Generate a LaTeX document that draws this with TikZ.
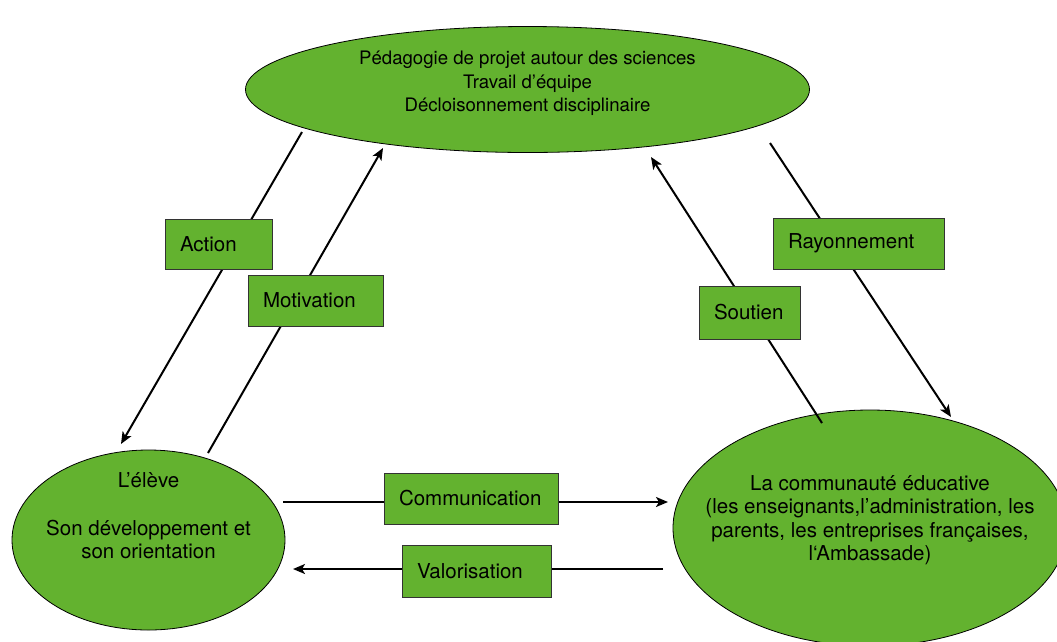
\documentclass[tikz,border=0pt]{standalone}
\usepackage{fontspec}
\setmainfont{TeX Gyre Heros}
\usetikzlibrary{shapes.geometric,arrows.meta}
\definecolor{leafgreen}{RGB}{99,178,47}

\begin{document}
\begin{tikzpicture}[x=1pt, y=-1pt,
  blob/.style={ellipse, draw=black, line width=0.8pt, fill=leafgreen, inner sep=0pt},
  blobtext/.style={align=center, font=\fontsize{20.5}{23.5}\selectfont},
  tag/.style={rectangle, draw=black!80, line width=0.8pt, fill=leafgreen,
    inner xsep=15pt, inner ysep=0pt, align=left, minimum height=51pt,
    font=\fontsize{20.5}{24}\selectfont},
  link/.style={line width=2pt, -{Stealth[length=12pt,width=10pt,inset=3pt]}}]
  \clip (0,0) rectangle (1057,641);
  % Ellipses
  \node[blob, minimum width=564pt, minimum height=126pt] (projet) at (527.5,89.5) {};
  \node[blob, minimum width=273pt, minimum height=180pt] (eleve) at (148.5,540) {};
  \node[blob, minimum width=394pt, minimum height=236pt] (communaute) at (870,528) {};
  \node[blobtext, font=\fontsize{18.6}{23.5}\selectfont] (projet-txt) at (527.5,83.5)
    {Pédagogie de projet autour des sciences\\Travail d’équipe\\Décloisonnement disciplinaire};
  \node[blobtext] (eleve-txt) at (148.5,516)
    {L’élève\\[24pt]Son développement et\\son orientation};
  \node[blobtext] (communaute-txt) at (870,520)
    {La communauté éducative\\(les enseignants,l’administration, les\\parents, les entreprises françaises,\\l‘Ambassade)};
  % Connector ends
  \coordinate (act-a) at (302,132);   \coordinate (act-b) at (121,444);
  \coordinate (mot-a) at (208,453);   \coordinate (mot-b) at (383,148);
  \coordinate (sou-a) at (822,423);   \coordinate (sou-b) at (651,157);
  \coordinate (ray-a) at (770,143);   \coordinate (ray-b) at (951,417);
  \coordinate (com-a) at (283,502);   \coordinate (com-b) at (668,502);
  \coordinate (val-a) at (663,569);   \coordinate (val-b) at (293,569);
  % Connectors
  \draw[link] (act-a) -- (act-b);
  \draw[link] (mot-a) -- (mot-b);
  \draw[link] (sou-a) -- (sou-b);
  \draw[link] (ray-a) -- (ray-b);
  \draw[link] (com-a) -- (com-b);
  \draw[link] (val-a) -- (val-b);
  % Labels
  \node[tag, text width=77pt, minimum height=50pt] (action) at (218.5,244) {Action};
  \node[tag, text width=105pt] (motivation) at (315.5,300.5) {Motivation};
  \node[tag, text width=141pt] (rayonnement) at (858.5,243.5) {Rayonnement};
  \node[tag, text width=71pt, minimum height=53pt] (soutien) at (749.5,312.5) {Soutien};
  \node[tag, text width=144pt] (communication) at (471,498.5) {Communication};
  \node[tag, text width=119pt, minimum height=52pt] (valorisation) at (476.5,571) {Valorisation};
\end{tikzpicture}
\end{document}
